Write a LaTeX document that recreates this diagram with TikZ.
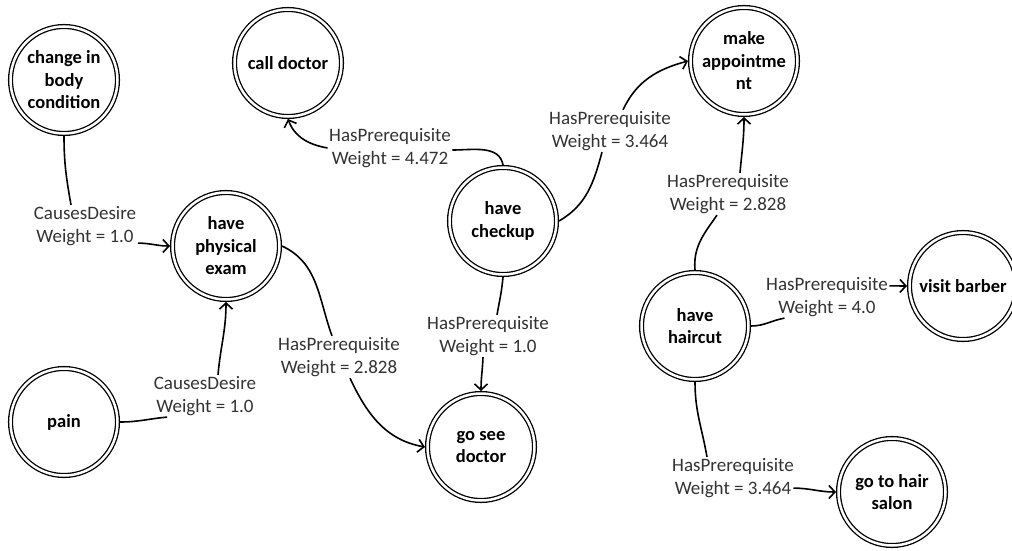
\documentclass[tikz,border=0pt]{standalone}
\usepackage{fontspec}
\setmainfont{Carlito}
\usetikzlibrary{arrows.meta}

\begin{document}
\begin{tikzpicture}[x=1pt,y=1pt]
	\tikzstyle{every node}=[font=\fontsize{19}{22.5}\selectfont, align=center]
	\tikzstyle{concept}=[circle, draw=black, line width=1.3pt, double=white, double distance=2.5pt, minimum size=107pt, inner sep=0pt, outer sep=2.5pt, font=\bfseries\fontsize{18.5}{22.5}\selectfont]
	\tikzstyle{rel}=[text=black!80, inner sep=1.5pt]
	\tikzstyle{link}=[line width=1.6pt, -{Straight Barb[length=6pt,width=13pt]}]
	\useasboundingbox (0,0) rectangle (1012,550);

	% concepts
	\path (64,470)  node[concept] (change)  {change in\\body\\condition};
	\path (288,487) node[concept] (calldoc) {call doctor};
	\path (744,489) node[concept] (appt)    {make\\appointme\\nt};
	\path (226,304) node[concept] (phys)    {have\\physical\\exam};
	\path (503,329) node[concept] (checkup) {have\\checkup};
	\path (64,128)  node[concept] (pain)    {pain};
	\path (481,103) node[concept] (seedoc)  {go see\\doctor};
	\path (695,224) node[concept] (haircut) {have\\haircut};
	\path (963,264) node[concept] (barber)  {visit barber};
	\path (892,58)  node[concept] (salon)   {go to hair\\salon};

	% relation labels
	\path (85,324)  node[rel] (lblA) {CausesDesire\\Weight = 1.0};
	\path (205,154) node[rel] (lblB) {CausesDesire\\Weight = 1.0};
	\path (339,193) node[rel] (lblC) {HasPrerequisite\\Weight = 2.828};
	\path (390,402) node[rel] (lblD) {HasPrerequisite\\Weight = 4.472};
	\path (610,419) node[rel] (lblE) {HasPrerequisite\\Weight = 3.464};
	\path (488,214) node[rel] (lblF) {HasPrerequisite\\Weight = 1.0};
	\path (728,356) node[rel] (lblG) {HasPrerequisite\\Weight = 2.828};
	\path (827,253) node[rel] (lblH) {HasPrerequisite\\Weight = 4.0};
	\path (733,72)  node[rel] (lblI) {HasPrerequisite\\Weight = 3.464};

	% relations
	\draw[link] (change.south) to[out=-90,in=100] ([xshift=-14pt]lblA.north)
		([yshift=4pt]lblA.south east) to[out=0,in=180] (phys.west);
	\draw[link] (pain.east) to[out=0,in=185] ([xshift=15pt]lblB.south west)
		([xshift=13pt]lblB.north) to[out=85,in=-90] (phys.south);
	\draw[link] (phys.east) to[out=-25,in=110] ([xshift=-7pt]lblC.north)
		([xshift=11pt]lblC.south) to[out=-65,in=170] (seedoc.west);
	\draw[link] (checkup.north) to[out=100,in=0] ([yshift=-2pt]lblD.east)
		(lblD.west) to[out=170,in=-70] (calldoc.south);
	\draw[link] (checkup.east) to[out=30,in=-105] ([xshift=-8pt]lblE.south)
		([xshift=13pt]lblE.north) to[out=65,in=195] (appt.west);
	\draw[link] (checkup.south) to[out=-95,in=80] ([xshift=9pt]lblF.north)
		([xshift=-5pt]lblF.south) to[out=-92,in=90] (seedoc.north);
	\draw[link] (haircut.north) to[out=95,in=-125] ([xshift=-11pt]lblG.south)
		([xshift=12pt]lblG.north) to[out=85,in=-90] (appt.south);
	\draw[link] (haircut.east) to[out=0,in=190] ([xshift=20pt]lblH.south west)
		([yshift=-10pt]lblH.north east) -- (barber.west);
	\draw[link] (haircut.south) to[out=-90,in=100] ([xshift=-26pt]lblI.north)
		([xshift=-2pt,yshift=11pt]lblI.south east) to[out=0,in=180] (salon.west);
\end{tikzpicture}
\end{document}
